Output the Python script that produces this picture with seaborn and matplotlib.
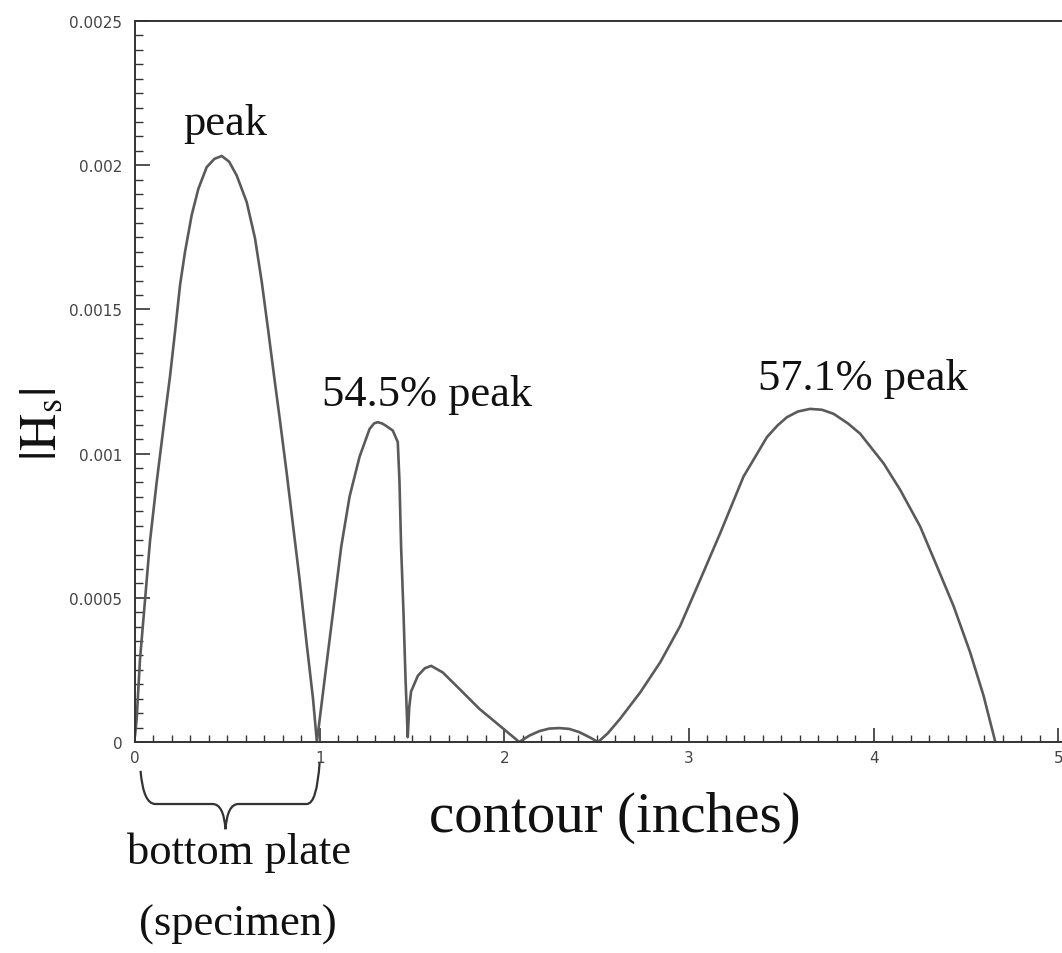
import numpy as np
import pandas as pd
import matplotlib
matplotlib.use("Agg")
import matplotlib.pyplot as plt
import seaborn as sns
from matplotlib.path import Path
from matplotlib.patches import PathPatch
from matplotlib.transforms import blended_transform_factory
from matplotlib.ticker import FixedLocator, MultipleLocator, FixedFormatter

# ---------------- data ----------------
contour_in = [0.0, 0.009, 0.027, 0.054, 0.081, 0.117, 0.162, 0.190, 0.217, 0.244,
              0.271, 0.307, 0.343, 0.388, 0.430, 0.470, 0.510, 0.551, 0.605, 0.650,
              0.686, 0.722, 0.755, 0.784, 0.820, 0.856, 0.892, 0.928, 0.964, 0.985,
              1.027, 1.072, 1.117, 1.162, 1.216, 1.270, 1.295, 1.315, 1.340, 1.360,
              1.396, 1.423, 1.432, 1.441, 1.454, 1.465, 1.477,
              1.485, 1.495, 1.532, 1.570, 1.604, 1.667, 1.757, 1.865, 1.973, 2.081,
              2.135, 2.189, 2.243, 2.297, 2.351, 2.405, 2.460, 2.508,
              2.560, 2.627, 2.736, 2.844, 2.952, 3.061, 3.169, 3.295, 3.422, 3.480,
              3.530, 3.590, 3.656, 3.720, 3.783, 3.860, 3.927, 4.054, 4.144, 4.252,
              4.343, 4.433, 4.523, 4.595, 4.659]
hs_mag = [0.00002, 0.00008, 0.000286, 0.00049, 0.000695, 0.000899, 0.00113, 0.00127,
          0.001424, 0.001585, 0.0017, 0.001827, 0.001918, 0.001993, 0.002022, 0.002032,
          0.002012, 0.001964, 0.001872, 0.001746, 0.001597, 0.001424, 0.00126, 0.00112,
          0.00094, 0.00075, 0.00056, 0.00035, 0.00015, 0.0,
          0.000218, 0.000448, 0.000678, 0.000851, 0.000989, 0.001085, 0.001105,
          0.001109, 0.001104, 0.001096, 0.00108, 0.00104,
          0.000908, 0.000678, 0.000448, 0.000218, 0.000017,
          0.00012, 0.000175, 0.00023, 0.000256, 0.000264, 0.000241, 0.000184,
          0.000115, 0.0000575, 0.0,
          0.000022, 0.0000375, 0.0000465, 0.0000483, 0.0000455, 0.0000345, 0.000017, 0.0,
          0.00003, 0.0000805, 0.000172, 0.000276, 0.000402, 0.000563, 0.000724, 0.00092,
          0.001057, 0.001098, 0.001126, 0.001146, 0.001155, 0.001152, 0.001138,
          0.001105, 0.001069, 0.000966, 0.000874, 0.000747, 0.000609, 0.000471,
          0.00031, 0.000161, 0.0]

y_ticks = [0.0, 0.0005, 0.001, 0.0015, 0.002, 0.0025]
y_tick_labels = ["0", "0.0005", "0.001", "0.0015", "0.002", "0.0025"]
x_ticks = [0, 1, 2, 3, 4, 5]
x_tick_labels = ["0", "1", "2", "3", "4", "5"]

annotations = [("peak", 0.488, 0.002148),
               ("54.5% peak", 1.58, 0.001207),
               ("57.1% peak", 3.94, 0.001262)]

df = pd.DataFrame({"contour": contour_in, "Hs": hs_mag})

# ---------------- figure ----------------
sns.set_style("white")
plt.rcParams["mathtext.fontset"] = "stix"

W, H = 1062, 954
fig = plt.figure(figsize=(W / 100, H / 100), dpi=100)
ax = fig.add_axes([135 / W, 1 - 743 / H, (W - 135) / W, (743 - 22) / H])

sns.lineplot(data=df, x="contour", y="Hs", ax=ax, sort=False, estimator=None,
             color="#5a5a5a", linewidth=1.9, solid_joinstyle="round",
             solid_capstyle="round")

ax.set_xlim(0, 5.02)
ax.set_ylim(0, 0.0025)

ax.xaxis.set_major_locator(FixedLocator(x_ticks))
ax.xaxis.set_major_formatter(FixedFormatter(x_tick_labels))
ax.xaxis.set_minor_locator(MultipleLocator(0.1))
ax.yaxis.set_major_locator(FixedLocator(y_ticks))
ax.yaxis.set_major_formatter(FixedFormatter(y_tick_labels))
ax.yaxis.set_minor_locator(MultipleLocator(0.00005))

ax.tick_params(axis="both", which="both", direction="in", colors="#333333",
               labelcolor="#444444", bottom=True, left=True, top=False, right=False)
ax.tick_params(axis="y", which="major", length=11, width=1.2, pad=9, labelsize=11)
ax.tick_params(axis="y", which="minor", length=6, width=1.0)
ax.tick_params(axis="x", which="major", length=10, width=1.2, pad=6, labelsize=11)
ax.tick_params(axis="x", which="minor", length=5, width=1.0)

for s in ["left", "bottom", "top"]:
    ax.spines[s].set_visible(True)
    ax.spines[s].set_color("#333333")
    ax.spines[s].set_linewidth(1.4)
ax.spines["right"].set_visible(False)

ax.set_xlabel("")
ax.set_ylabel("")

serif = ["Liberation Serif", "DejaVu Serif"]

for txt, xv, yv in annotations:
    ax.text(xv, yv, txt, ha="center", va="center", fontsize=32,
            family=serif, color="#111111")

ax.text(0.518, -0.104, "contour (inches)", transform=ax.transAxes,
        ha="center", va="center", fontsize=41, family=serif, color="#111111")

fig.text(42 / W, 1 - 424 / H, r"$|\mathrm{H}_\mathrm{s}|$", rotation=90,
         ha="center", va="center", fontsize=37, color="#111111")

trans = blended_transform_factory(ax.transData, ax.transAxes)
ax.text(0.563, -0.1526, "bottom plate", transform=trans, ha="center", va="center",
        fontsize=32, family=serif, color="#111111")
ax.text(0.558, -0.2524, "(specimen)", transform=trans, ha="center", va="center",
        fontsize=32, family=serif, color="#111111")

# curly brace under the bottom plate span (0 to 1 inch)
verts = [(0.03, -0.040), (0.045, -0.086), (0.11, -0.086),
         (0.42, -0.086), (0.48, -0.086), (0.49, -0.121),
         (0.50, -0.086), (0.56, -0.086), (0.93, -0.086),
         (0.985, -0.086), (1.0, -0.028)]
codes = [Path.MOVETO, Path.CURVE3, Path.CURVE3,
         Path.LINETO, Path.CURVE3, Path.CURVE3,
         Path.CURVE3, Path.CURVE3, Path.LINETO,
         Path.CURVE3, Path.CURVE3]
brace = PathPatch(Path(verts, codes), transform=trans, fill=False,
                  edgecolor="#333333", linewidth=1.6, clip_on=False)
ax.add_patch(brace)

fig.savefig("out.png", dpi=100, facecolor="white")
